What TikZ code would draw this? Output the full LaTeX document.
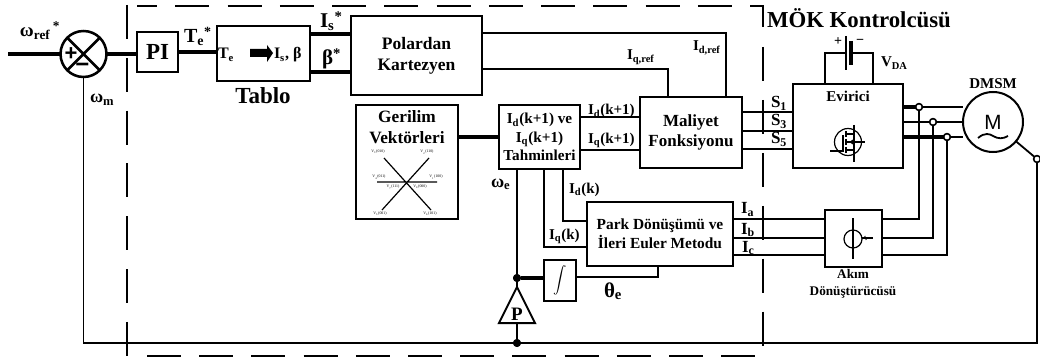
\documentclass[tikz,border=0pt]{standalone}
\usepackage{fontspec}
\setmainfont{Liberation Serif}
\newfontfamily\msans{Liberation Sans}
\newcommand\fpx[2]{\fontsize{\fpeval{#1*.75}}{\fpeval{#2*.75}}\selectfont\bfseries}
\newcommand\sbs[1]{\textsubscript{#1}}
\tikzset{
  wire/.style={line width=1.35pt},
  fatwire/.style={line width=2.3pt},
  fine/.style={line width=.9pt},
  blockbox/.style={draw,line width=1.5pt,fill=white,inner sep=0pt,outer sep=0pt,align=center},
  txt/.style={inner sep=0pt,outer sep=0pt,anchor=base west},
  ctxt/.style={inner sep=0pt,outer sep=0pt,anchor=base,align=center},
  mtxt/.style={inner sep=0pt,outer sep=0pt,align=center},
  frame/.style={line width=1.3pt,dash pattern=on 25.5pt off 13.7pt},
  dot/.style={circle,fill=black,inner sep=0pt,minimum size=6pt,outer sep=0pt},
  open/.style={circle,draw,fill=white,line width=1.1pt,inner sep=0pt,minimum size=5pt,outer sep=0pt},
  tiny/.style={inner sep=0pt,outer sep=0pt,font=\fontsize{2.9}{4}\selectfont},
}
\begin{document}
\begin{tikzpicture}[x=.75pt,y=-.75pt]
\useasboundingbox (0,0) rectangle (1040,360);
% blocks
\node[circle,draw,line width=1.9pt,fill=white,inner sep=0pt,minimum size=34.5pt,outer sep=0pt] (sum) at (83.5,54) {};
\node[blockbox,minimum width=41*.75pt,minimum height=40*.75pt,font=\fpx{23}{25}] (pi) at (157.5,52) {PI};
\node[blockbox,minimum width=93*.75pt,minimum height=55*.75pt] (tab) at (263.5,53.5) {};
\node[blockbox,minimum width=131*.75pt,minimum height=79*.75pt,font=\fpx{17.5}{21}] (pol) at (416.5,55.5) {Polardan\\Kartezyen};
\node[blockbox,minimum width=102*.75pt,minimum height=114*.75pt] (ger) at (407,162) {};
\node[blockbox,minimum width=81*.75pt,minimum height=64*.75pt,font=\fpx{15.2}{18.5}] (tah) at (539.5,137) {I\sbs{d}(k+1) ve\\I\sbs{q}(k+1)\\Tahminleri};
\node[blockbox,minimum width=102*.75pt,minimum height=71*.75pt,font=\fpx{17}{20}] (mal) at (691,132.5) {Maliyet\\Fonksiyonu};
\node[blockbox,minimum width=110*.75pt,minimum height=84*.75pt] (evi) at (848,126) {};
\node[blockbox,minimum width=146*.75pt,minimum height=64*.75pt,font=\fpx{15.4}{18.5}] (par) at (660,234) {Park Dönüşümü ve\\İleri Euler Metodu};
\node[blockbox,minimum width=57*.75pt,minimum height=57*.75pt] (akm) at (853,238.5) {};
\node[blockbox,minimum width=32*.75pt,minimum height=41*.75pt] (int) at (560,280.5) {\fontsize{10}{12}\selectfont$\displaystyle\int$};
\node[circle,draw,line width=1.5pt,fill=white,inner sep=0pt,minimum size=45pt,outer sep=0pt] (mot) at (993,122) {};
% junctions
\node[dot] (jw) at (517,278) {};
\node[dot] (jb) at (517,343) {};
\node[open] (ja) at (919,107) {};
\node[open] (jc) at (933,122) {};
\node[open] (jd) at (947,137) {};
\node[open] (nc) at (1037,159) {};
\coordinate (fbin) at (8,54);
\coordinate (tri) at (517,287);
\coordinate (tl) at (499,323);
\coordinate (tr) at (535,323);
\coordinate (tb) at (517,323);
\coordinate (batL) at (846,53);
\coordinate (batR) at (851,53);
% connectors
\draw[fatwire] (fbin) -- (sum);
\draw[fatwire] (sum) -- (pi.west |- sum);
\draw[fatwire] (pi) -- (tab.west |- pi);
\draw[fatwire] (tab.east |- 0,34) -- (pol.west |- 0,34);
\draw[fatwire] (tab.east |- 0,72) -- (pol.west |- 0,72);
\draw[wire] (pol.east |- 0,33) -| (726,0 |- mal.north);
\draw[wire] (pol.east |- 0,69) -| (668,0 |- mal.north);
\draw[fatwire] (ger.east |- 0,137) -- (tah.west |- 0,137);
\draw[wire] (tah.east |- 0,117) -- (mal.west |- 0,117);
\draw[wire] (tah.east |- 0,150) -- (mal.west |- 0,150);
\draw[wire] (mal.east |- 0,112) -- (evi.west |- 0,112);
\draw[wire] (mal.east |- 0,131) -- (evi.west |- 0,131);
\draw[wire] (mal.east |- 0,149) -- (evi.west |- 0,149);
\draw[fatwire] (jw) -- (int.west |- jw);
\draw[wire] (tah.south -| jw) -- (jw);
\draw[wire] (jw) -- (tri);
\draw[wire] (tb) -- (jb);
\draw[wire] (tah.south -| 544,0) |- (par.west |- 0,247);
\draw[wire] (tah.south -| 563,0) |- (par.west |- 0,221);
\draw[wire] (int.east |- 0,277) -| (658,0 |- par.south);
\draw[wire] (par.east |- 0,219) -- (akm.west |- 0,219);
\draw[wire] (par.east |- 0,238) -- (akm.west |- 0,238);
\draw[wire] (par.east |- 0,255) -- (akm.west |- 0,255);
\draw[fatwire] (evi.east |- ja) -- (ja);
\draw[wire] (ja) -- (mot.west |- ja);
\draw[wire] (evi.east |- jc) -- (jc) -- (mot.west |- jc);
\draw[fatwire] (evi.east |- jd) -- (jd);
\draw[wire] (jd) -- (mot.west |- jd);
\draw[wire] (ja) |- (akm.east |- 0,219);
\draw[wire] (jc) |- (akm.east |- 0,238);
\draw[wire] (jd) |- (akm.east |- 0,255);
\draw[wire] (mot) -- (nc);
\draw[wire] (nc) |- (sum.south |- jb) -- (sum);
% redraw junction circles on top of their wires
\node[open] at (ja) {};
\node[open] at (jc) {};
\node[open] at (jd) {};
\node[open] at (nc) {};
\node[dot] at (jw) {};
\node[dot] at (jb) {};
% triangle P
\draw[blockbox] (tri) -- (tr) -- (tl) -- cycle;
\node[ctxt,font=\fpx{19}{20}] (ptxt) at (517,320) {P};
% sum inside
\draw[line width=1.9pt] (sum.45) -- (sum.225) (sum.135) -- (sum.315);
\node[font=\msans\fpx{22}{22},inner sep=0pt] (plus) at (71,54) {+};
\node[font=\msans\fpx{24}{24},inner sep=0pt] (minus) at (82.5,67.5) {−};
% battery
\draw[wire] (evi.north -| 825,0) |- (batL);
\draw[wire] (evi.north -| 873,0) |- (batR);
\draw[line width=1.4pt] (846,36) -- (846,70);
\draw[line width=2.4pt] (851,41) -- (851,65);
\node[font=\fpx{14}{14},inner sep=0pt] (bplus) at (838,42) {+};
\node[font=\fpx{14}{14},inner sep=0pt] (bminus) at (860,42) {−};
% block arrow in table
\fill (250,49) -- (267,49) -- (267,45) -- (273,53) -- (267,62) -- (267,57) -- (250,57) -- cycle;
% vector star
\draw[line width=.9pt] (377,182) -- (437,182) (384,158) -- (431,210) (429,158) -- (382,210);
\node[tiny] (v3) at (378,152) {V\sbs{3}(010)};
\node[tiny] (v2) at (427,152) {V\sbs{2}(110)};
\node[tiny] (v4) at (379,177) {V\sbs{4}(011)};
\node[tiny] (v1) at (436,177) {V\sbs{1}(100)};
\node[tiny] (v7) at (393,187) {V\sbs{7}(111)};
\node[tiny] (v0) at (420,187) {V\sbs{0}(000)};
\node[tiny] (v5) at (380,214) {V\sbs{5}(001)};
\node[tiny] (v6) at (430,214) {V\sbs{6}(101)};
% MOSFET
\draw[fine] (848,142) circle[radius=13.5];
\draw[fine] (830,151) -- (843,151) -- (843,135);
\draw[fine] (846,131) -- (846,137) (846,139) -- (846,145) (846,147) -- (846,153);
\draw[fine] (846,134) -- (854,134) (846,150) -- (854,150) (854,125) -- (854,162) (846,142) -- (865,142);
\fill (849,142) -- (853,139.5) -- (853,144.5) -- cycle;
% current sensor
\draw[fine] (853,239) circle[radius=9];
\draw[fine] (853,218) -- (853,259);
\draw[fine] (862,238) -- (873,238);
\draw[line width=.6pt] (864,238) -- (865,236.5) -- (866,239.5) -- (867,238);
% motor
\node[inner sep=0pt,font=\msans\fontsize{15.5}{18}\selectfont] (mlab) at (993,122.5) {M};
\draw[wire] (978,138) .. controls (985,132) and (990,134) .. (993,136) .. controls (998,139) and (1003,139) .. (1008,136);
% dashed frame
\draw[frame,dash phase=14*.75pt] (137,6) -- (763,6) -- (763,27);
\draw[frame,dash pattern=on 25.5pt off 14.2pt] (763,47) -- (763,346);
\draw[frame,dash pattern=on 25.5pt off 13.65pt] (147,356) -- (755,356);
\draw[frame,dash pattern=on 25.5pt off 14.1pt] (127,5) -- (127,356);
% labels
\node[txt,font=\fpx{19}{20}] (lref) at (20,37) {ω\sbs{ref}\textsuperscript{\,*}};
\node[txt,font=\fpx{18}{20}] (lwm) at (90,103) {ω\sbs{m}};
\node[txt,font=\fpx{20}{20}] (lte) at (184,43) {T\sbs{e}\textsuperscript{*}};
\node[txt,font=\fpx{16}{20}] (lte2) at (218,59) {T\sbs{e}};
\node[txt,font=\fpx{16}{20}] (lis) at (274,59) {I\sbs{s}, β};
\node[ctxt,font=\fpx{23}{23}] (ltab) at (263,104) {Tablo};
\node[txt,font=\fpx{21}{20}] (lisx) at (320,28) {I\sbs{s}\textsuperscript{*}};
\node[txt,font=\fpx{21}{20}] (lbx) at (322,65) {β\textsuperscript{*}};
\node[txt,font=\fpx{15}{18}] (liqr) at (627,60) {I\sbs{q,ref}};
\node[txt,font=\fpx{15}{18}] (lidr) at (693,51) {I\sbs{d,ref}};
\node[mtxt,font=\fpx{17.3}{21}] (lger) at (407,127) {Gerilim\\Vektörleri};
\node[txt,font=\fpx{15}{18}] (lid1) at (588,115) {I\sbs{d}(k+1)};
\node[txt,font=\fpx{15}{18}] (liq1) at (588,143) {I\sbs{q}(k+1)};
\node[txt,font=\fpx{18}{20}] (lwe) at (491,187) {ω\sbs{e}};
\node[txt,font=\fpx{15}{18}] (lidk) at (569,193) {I\sbs{d}(k)};
\node[txt,font=\fpx{15}{18}] (liqk) at (549,239) {I\sbs{q}(k)};
\node[txt,font=\fpx{21}{20}] (lth) at (604,297) {θ\sbs{e}};
\node[txt,font=\fpx{17}{20}] (ls1) at (771,108) {S\sbs{1}};
\node[txt,font=\fpx{17}{20}] (ls3) at (771,126) {S\sbs{3}};
\node[txt,font=\fpx{17}{20}] (ls5) at (771,144) {S\sbs{5}};
\node[ctxt,font=\fpx{15}{18}] (levi) at (848,102) {Evirici};
\node[txt,font=\fpx{15}{18}] (lvda) at (881,67) {V\sbs{DA}};
\node[txt,font=\fpx{22.8}{24}] (lmok) at (767,28) {MÖK Kontrolcüsü};
\node[ctxt,font=\fpx{15}{18}] (ldm) at (993,89) {DMSM};
\node[txt,font=\fpx{17}{20}] (lia) at (741,214) {I\sbs{a}};
\node[txt,font=\fpx{17}{20}] (lib) at (741,234) {I\sbs{b}};
\node[txt,font=\fpx{17}{20}] (lic) at (742,252) {I\sbs{c}};
\node[mtxt,font=\fpx{13.2}{17}] (lak) at (853,284) {Akım\\Dönüştürücüsü};
\end{tikzpicture}
\end{document}
